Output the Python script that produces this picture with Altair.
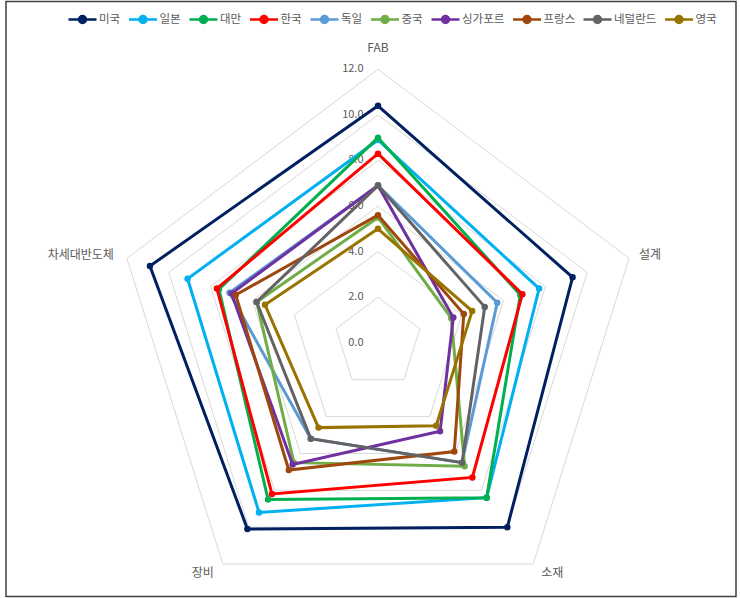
import math

import altair as alt
import pandas as pd

# Radar axes (clockwise from the top) and their angles in degrees
axes_names = ["FAB", "설계", "소재", "장비", "차세대반도체"]
axes_angles = [90, 18, -54, -126, 162]

# Scores per country, in the order of axes_names
countries = ["미국", "일본", "대만", "한국", "독일", "중국", "싱가포르", "프랑스", "네덜란드", "영국"]
usa = [10.4, 9.3, 10.0, 10.1, 10.9]
japan = [8.9, 7.7, 8.4, 9.2, 9.1]
taiwan = [9.0, 6.8, 8.4, 8.5, 7.6]
korea = [8.3, 6.9, 7.3, 8.2, 7.7]
germany = [6.9, 5.7, 6.5, 5.2, 7.1]
china = [5.5, 3.5, 6.7, 6.5, 5.8]
singapore = [6.9, 3.6, 4.8, 6.6, 7.0]
france = [5.6, 4.1, 5.9, 6.9, 6.8]
netherlands = [6.9, 5.1, 6.5, 5.2, 5.8]
uk = [5.0, 4.5, 4.5, 4.6, 5.4]
scores = [usa, japan, taiwan, korea, germany, china, singapore, france, netherlands, uk]

colors = ["#002060", "#00B0F0", "#00B050", "#FF0000", "#5B9BD5",
          "#70AD47", "#7030A0", "#9E480E", "#636363", "#997300"]

# Radial gridlines and their labels
grid_levels = [2, 4, 6, 8, 10, 12]
tick_values = [0, 2, 4, 6, 8, 10, 12]
tick_labels = ["0.0", "2.0", "4.0", "6.0", "8.0", "10.0", "12.0"]

# Canvas layout: centre of the radar in pixels and pixels per score unit
W, H = 740, 598
CX, CY = 378.0, 342.8
KX, KY = 22.0, 22.79

xscale = alt.Scale(domain=[-CX / KX, (W - CX) / KX], nice=False, zero=False)
yscale = alt.Scale(domain=[(CY - H) / KY, CY / KY], nice=False, zero=False)
X = alt.X("x:Q", scale=xscale, axis=None)
Y = alt.Y("y:Q", scale=yscale, axis=None)

FONT = "Noto Sans CJK KR"
TEXT_GREY = "#595959"


def polar(v, deg):
    r = math.radians(deg)
    return v * math.cos(r), v * math.sin(r)


# Gridline pentagons
grid_rows = []
for lv in grid_levels:
    for i in range(len(axes_angles) + 1):
        gx, gy = polar(lv, axes_angles[i % len(axes_angles)])
        grid_rows.append({"level": lv, "o": i, "x": gx, "y": gy})
grid = alt.Chart(pd.DataFrame(grid_rows)).mark_line(
    color="#D9D9D9", strokeWidth=1
).encode(x=X, y=Y, detail="level:N", order="o:Q")

# Radial tick labels along the FAB axis
tick_df = pd.DataFrame({"x": [0.0] * len(tick_values), "y": tick_values, "t": tick_labels})
ticks = alt.Chart(tick_df).mark_text(
    align="right", baseline="middle", dx=-14.5, font=FONT, fontSize=11, color=TEXT_GREY
).encode(x=X, y=Y, text="t:N")

# Category labels just outside the outer pentagon
label_style = {
    "FAB": dict(align="center", baseline="middle", dx=0, dy=-21),
    "설계": dict(align="left", baseline="middle", dx=10, dy=-3),
    "소재": dict(align="center", baseline="middle", dx=19, dy=9),
    "장비": dict(align="center", baseline="middle", dx=-20, dy=9),
    "차세대반도체": dict(align="right", baseline="middle", dx=-13, dy=-3),
}
axis_labels = []
for name, deg in zip(axes_names, axes_angles):
    lx, ly = polar(max(grid_levels), deg)
    axis_labels.append(
        alt.Chart(pd.DataFrame({"x": [lx], "y": [ly], "t": [name]})).mark_text(
            font=FONT, fontSize=12, color=TEXT_GREY, **label_style[name]
        ).encode(x=X, y=Y, text="t:N")
    )

# Legend symbol: a short line with a dot in the middle
legend_symbol = "M-1,0L1,0M-0.25,0A0.25,0.25 0 1,0 0.25,0A0.25,0.25 0 1,0 -0.25,0Z"
legend = alt.Legend(
    orient="none", legendX=67, legendY=4, direction="horizontal", title=None,
    symbolType=legend_symbol, symbolSize=784, symbolStrokeWidth=2.5,
    symbolOpacity=1, labelFont=FONT, labelFontSize=11.5, labelColor=TEXT_GREY,
    labelOffset=1, columnPadding=2.5, padding=0,
)
country_scale = alt.Scale(domain=countries, range=colors)
fill_enc = alt.Fill("country:N", scale=country_scale, legend=legend)
stroke_enc = alt.Stroke("country:N", scale=country_scale, legend=legend)

# One closed outline plus markers per country, later countries drawn on top
series_layers = []
for name, vals, col in zip(countries, scores, colors):
    rows = []
    for i in range(len(axes_angles) + 1):
        k = i % len(axes_angles)
        px, py = polar(vals[k], axes_angles[k])
        rows.append({"country": name, "axis": axes_names[k], "value": vals[k],
                     "o": i, "x": px, "y": py})
    df = pd.DataFrame(rows)
    line = alt.Chart(df).mark_line(color=col, strokeWidth=3, strokeJoin="miter").encode(
        x=X, y=Y, order="o:Q"
    )
    pts = alt.Chart(df[df["o"] < len(axes_angles)]).mark_point(
        filled=True, size=20, opacity=1
    ).encode(x=X, y=Y, fill=fill_enc, stroke=stroke_enc)
    series_layers += [line, pts]

# Outer frame of the chart
frame = alt.Chart(pd.DataFrame({"a": [0]})).mark_rect(
    fill="transparent", stroke="#404040", strokeWidth=1.5
).encode(x=alt.value(6), x2=alt.value(736), y=alt.value(1.5), y2=alt.value(596.5))

chart = alt.layer(grid, ticks, *axis_labels, *series_layers, frame).properties(
    width=W, height=H, padding=0, autosize=alt.AutoSizeParams(type="none")
).configure_view(stroke=None)

chart.save("out.html", embed_options={"renderer": "svg", "actions": False})
